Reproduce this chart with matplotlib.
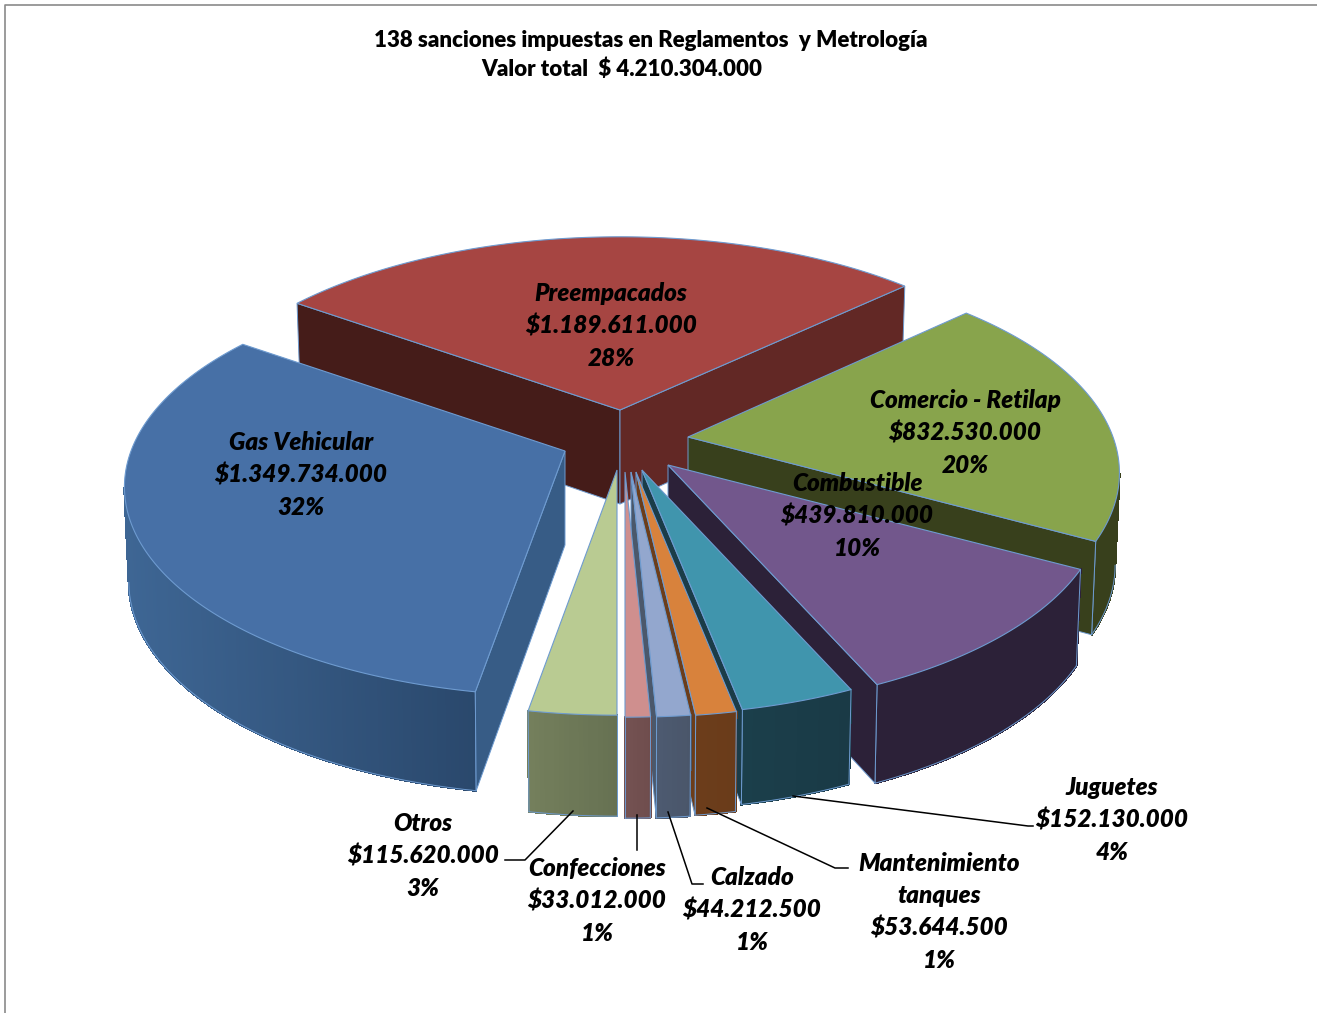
import numpy as np
import matplotlib
matplotlib.use('Agg')
import matplotlib.pyplot as plt
from matplotlib.collections import PolyCollection
from matplotlib.colors import to_rgb

# clockwise from the bottom of the pie
categories = ['Otros', 'Gas Vehicular', 'Preempacados', 'Comercio - Retilap', 'Combustible',
              'Juguetes', 'Mantenimiento\ntanques', 'Calzado', 'Confecciones']
values = [115620000, 1349734000, 1189611000, 832530000, 439810000,
          152130000, 53644500, 44212500, 33012000]
title_lines = ['138 sanciones impuestas en Reglamentos  y Metrología',
               'Valor total  $ 4.210.304.000']

# styling of the slices
top_colors = ['#B9CB92', '#4770A6', '#A64542', '#88A44C', '#72578C', '#4095AD', '#D8823C', '#93A7CE', '#CF8F8E']
wall_left = ['#747F5C', '#3E6694', '#451C19', '#38401C', '#2C2138', '#1B3F4B', '#6C3D1B', '#4D5A70', '#745252']
wall_right = ['#667152', '#2A486C', '#622825', '#38401C', '#2C2138', '#1A3A46', '#6A3C1A', '#4A566A', '#6F4D4D']
side_start = ['#667152', '#375C86', '#451C19', '#38401C', '#2C2138', '#1B3C48', '#6C3D1A', '#4B586B', '#735050']
side_end = ['#667152', '#375C86', '#622825', '#38401C', '#2C2138', '#1B3C48', '#6C3D1A', '#4B586B', '#735050']
# explosion, pixel position of each slice tip
tips = [(617, 470), (565, 451), (620, 410), (688, 437), (668, 465),
        (642, 470), (636, 472), (631, 472), (625, 472)]
# small per slice corrections of the perspective
radii = [430, 434, 435, 425, 430, 430, 430, 430, 430]
depths = [96, 94, 94, 91, 94, 90, 95, 96, 96]
draw_order = [2, 3, 1, 4, 5, 6, 7, 8, 0]

label_pos = [(423, 823), (301, 442), (611, 293), (965, 400), (857, 483),
             (1112, 787), (939, 863), (752, 877), (597, 868)]
leaders = [[(573, 811), (525, 860), (505, 860)],
           [(637, 815), (637, 850)],
           [(668, 812), (692, 884), (703, 884)],
           [(707, 808), (835, 868), (848, 868)],
           [(793, 796), (1028, 826), (1033, 826)]]

RY, K = 203, 0.172
EDGE = '#6E9BD0'
LABEL_SIZE = 17.5
TITLE_SIZE = 16


def project(i, deg):
    tip = tips[i]
    a = np.radians(deg)
    X, Y = np.sin(a), -np.cos(a)
    s = 1 / (1 - K * Y)
    x = tip[0] + radii[i] * X * s
    y = tip[1] + RY * Y * s
    xb = tip[0] + (x - tip[0]) * 0.99
    yb = y + depths[i] + 5 * Y
    return x, y, xb, yb


fig = plt.figure(figsize=(13.17, 10.13), dpi=100)
ax = fig.add_axes([0, 0, 1, 1])
ax.set_xlim(0, 1317)
ax.set_ylim(1013, 0)
ax.axis('off')

ax.plot([4.5, 4.5, 1317], [1013, 4.5, 4.5], color='#8A8A8A', lw=1.2)

vals = np.array(values, dtype=float)
total = vals.sum()
starts = 180 + np.concatenate([[0], np.cumsum(vals)[:-1]]) / total * 360
spans = vals / total * 360

z = 2
for i in draw_order:
    tip = tips[i]
    ang = np.linspace(starts[i], starts[i] + spans[i], max(int(spans[i] * 2), 8))
    x, y, xb, yb = project(i, ang)
    tip_b = (tip[0], tip[1] + depths[i])

    # outer wall, only from the silhouette forward, shaded left to right
    front = -np.cos(np.radians(ang)) > K
    if front.any():
        lo, hi = x[front].min(), x[front].max()
        c0, c1 = np.array(to_rgb(wall_left[i])), np.array(to_rgb(wall_right[i]))
        quads, cols = [], []
        for j in range(len(ang) - 1):
            if not (front[j] and front[j + 1]):
                continue
            quads.append([(x[j], y[j]), (x[j + 1], y[j + 1]), (xb[j + 1], yb[j + 1]), (xb[j], yb[j])])
            t = ((x[j] + x[j + 1]) / 2 - lo) / max(hi - lo, 1)
            cols.append(c0 + (c1 - c0) * t)
        ax.add_collection(PolyCollection(quads, facecolors=cols, edgecolors=cols, linewidths=1.0,
                                         antialiaseds=False, zorder=z))
        z += 1
        ax.plot(xb[front], yb[front], color=EDGE, lw=0.7, zorder=z)
        for j in (0, -1):
            if front[j]:
                ax.plot([x[j], xb[j]], [y[j], yb[j]], color=EDGE, lw=0.7, zorder=z)
        z += 1

    # flat cut walls, only when they face the viewer
    sa, sb = np.sin(np.radians(ang[0])), np.sin(np.radians(ang[-1]))
    if sa < -1e-6:
        ax.fill([tip[0], x[0], xb[0], tip_b[0]], [tip[1], y[0], yb[0], tip_b[1]],
                facecolor=side_start[i], edgecolor=EDGE, lw=0.7, zorder=z)
        z += 1
    if sb > 1e-6:
        ax.fill([tip[0], x[-1], xb[-1], tip_b[0]], [tip[1], y[-1], yb[-1], tip_b[1]],
                facecolor=side_end[i], edgecolor=EDGE, lw=0.7, zorder=z)
        z += 1

    # top face
    ax.fill(np.r_[tip[0], x], np.r_[tip[1], y], facecolor=top_colors[i], edgecolor=EDGE, lw=0.8, zorder=z)
    z += 1

for pts in leaders:
    px, py = zip(*pts)
    ax.plot(px, py, color='black', lw=1.1, zorder=z)

font = dict(family='Lato', fontweight='heavy', ha='center', va='center', color='black', zorder=z + 1)
ax.text(651, 40, title_lines[0], fontsize=TITLE_SIZE, **font)
ax.text(622, 69, title_lines[1], fontsize=TITLE_SIZE, **font)

for i, name in enumerate(categories):
    money = '$' + f'{values[i]:,}'.replace(',', '.')
    pct = f'{values[i] / total * 100:.0f}%'
    lines = name.split('\n') + [money, pct]
    for n, line in enumerate(lines):
        ax.text(label_pos[i][0], label_pos[i][1] + n * 32.5, line, fontsize=LABEL_SIZE,
                fontstyle='italic', **font)

fig.savefig('out.png', dpi=100, facecolor='white')
